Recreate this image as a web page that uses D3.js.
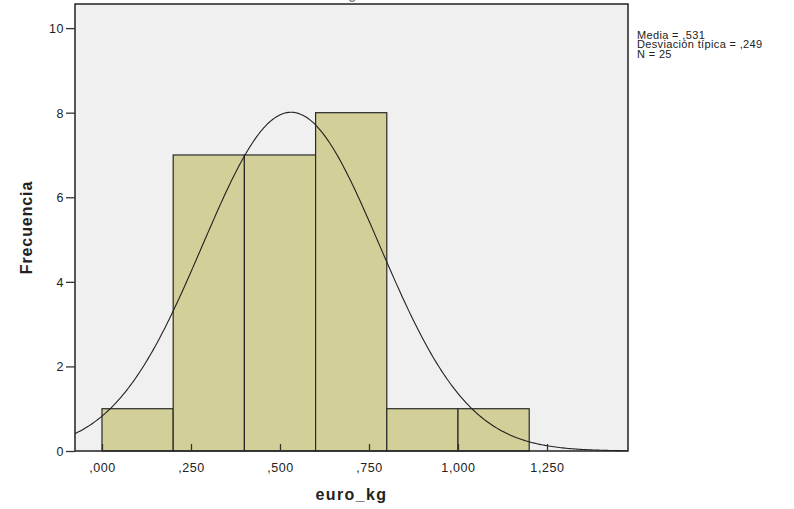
<!DOCTYPE html>
<html>
<head>
<meta charset="utf-8">
<script src="https://cdn.jsdelivr.net/npm/d3@7"></script>
<style>
  body { margin: 0; background: #fff; }
  svg { display: block; font-family: "Liberation Sans", Arial, sans-serif; }
</style>
</head>
<body>
<svg id="chart" width="794" height="509"></svg>
<script>
// bins of euro_kg and their counts
const binStarts = [0, 0.2, 0.4, 0.6, 0.8, 1.0];
const binWidth = 0.2;
const counts = [1, 7, 7, 8, 1, 1];
const xTicks = [0, 0.25, 0.5, 0.75, 1.0, 1.25];
const yTicks = [0, 2, 4, 6, 8, 10];
const mean = 0.531, sd = 0.249, n = 25;

const width = 794, height = 509;
const margin = {left: 75, right: 166, top: 4, bottom: 58};

const svg = d3.select("#chart");

let x = d3.scaleLinear()
    .domain([-0.0758, 1.4775])
    .range([margin.left, width - margin.right]);
let y = d3.scaleLinear()
    .domain([0, 10.57])
    .range([height - margin.bottom, margin.top]);

let fmt = d => d3.format(".3f")(d).replace(".", ",").replace(/^0/, "");

// plot background
svg.append("rect")
    .attr("x", x.range()[0])
    .attr("y", y.range()[1])
    .attr("width", x.range()[1] - x.range()[0])
    .attr("height", y.range()[0] - y.range()[1])
    .attr("fill", "#f0f0f0");

// title, cut off at the top edge as in the source
svg.append("text")
    .attr("x", (x.range()[0] + x.range()[1]) / 2)
    .attr("y", -1)
    .attr("text-anchor", "middle")
    .attr("font-size", 13)
    .attr("font-weight", "bold")
    .attr("fill", "#888")
    .text("Histograma");

// bars
svg.append("g")
  .selectAll("rect")
  .data(binStarts.map((s, i) => ({s, c: counts[i]})))
  .join("rect")
    .attr("x", d => x(d.s))
    .attr("y", d => y(d.c))
    .attr("width", d => x(d.s + binWidth) - x(d.s))
    .attr("height", d => y(0) - y(d.c))
    .attr("fill", "#d3cf98")
    .attr("stroke", "#2a2a2a")
    .attr("stroke-width", 1.2);

// normal curve
const xs = d3.range(x.domain()[0], x.domain()[1] + 0.001, 0.005);
const pdf = v => n * binWidth / (sd * Math.sqrt(2 * Math.PI)) * Math.exp(-0.5 * ((v - mean) / sd) ** 2);
svg.append("path")
    .datum(xs)
    .attr("fill", "none")
    .attr("stroke", "#222")
    .attr("stroke-width", 1.1)
    .attr("d", d3.line().x(d => x(d)).y(d => y(pdf(d))));

// frame
svg.append("rect")
    .attr("x", x.range()[0])
    .attr("y", y.range()[1])
    .attr("width", x.range()[1] - x.range()[0])
    .attr("height", y.range()[0] - y.range()[1])
    .attr("fill", "none")
    .attr("stroke", "#222")
    .attr("stroke-width", 1.5);

// axes
const xAxis = svg.append("g")
    .attr("transform", `translate(0,${y(0)})`)
    .call(d3.axisBottom(x).tickValues(xTicks).tickFormat(fmt).tickSize(7).tickSizeOuter(0));
const yAxis = svg.append("g")
    .attr("transform", `translate(${x.range()[0]},0)`)
    .call(d3.axisLeft(y).tickValues(yTicks).tickSize(9).tickSizeOuter(0));

[xAxis, yAxis].forEach(g => {
  g.select(".domain").remove();
  g.selectAll("line").attr("stroke", "#333").attr("stroke-width", 1.3);
  g.selectAll("text")
    .attr("font-size", 12.5)
    .attr("letter-spacing", 0.6)
    .attr("fill", "#222")
    .attr("font-family", "Liberation Sans, Arial, sans-serif");
});
xAxis.selectAll("line").attr("y1", -7).attr("y2", 0);
xAxis.selectAll("text").attr("y", 0).attr("dy", "1.65em");
yAxis.selectAll("text").attr("x", -11).attr("dy", "0.36em");

// axis titles
svg.append("text")
    .attr("x", (x.range()[0] + x.range()[1]) / 2)
    .attr("y", 500)
    .attr("text-anchor", "middle")
    .attr("font-size", 16)
    .attr("letter-spacing", 1.4)
    .attr("font-weight", "bold")
    .attr("fill", "#222")
    .text("euro_kg");
svg.append("text")
    .attr("transform", `translate(32,${(y.range()[0] + y.range()[1]) / 2}) rotate(-90)`)
    .attr("text-anchor", "middle")
    .attr("font-size", 16)
    .attr("letter-spacing", 0.9)
    .attr("font-weight", "bold")
    .attr("fill", "#222")
    .text("Frecuencia");

// stats
const stats = [`Media = ${fmt(mean)}`, `Desviación típica = ${fmt(sd)}`, `N = ${n}`];
svg.append("text")
    .attr("y", 39)
    .attr("font-size", 11)
    .attr("letter-spacing", 0.35)
    .attr("fill", "#222")
  .selectAll("tspan")
  .data(stats)
  .join("tspan")
    .attr("x", 637)
    .attr("dy", (d, i) => i ? 9.3 : 0)
    .text(d => d);
</script>
</body>
</html>
